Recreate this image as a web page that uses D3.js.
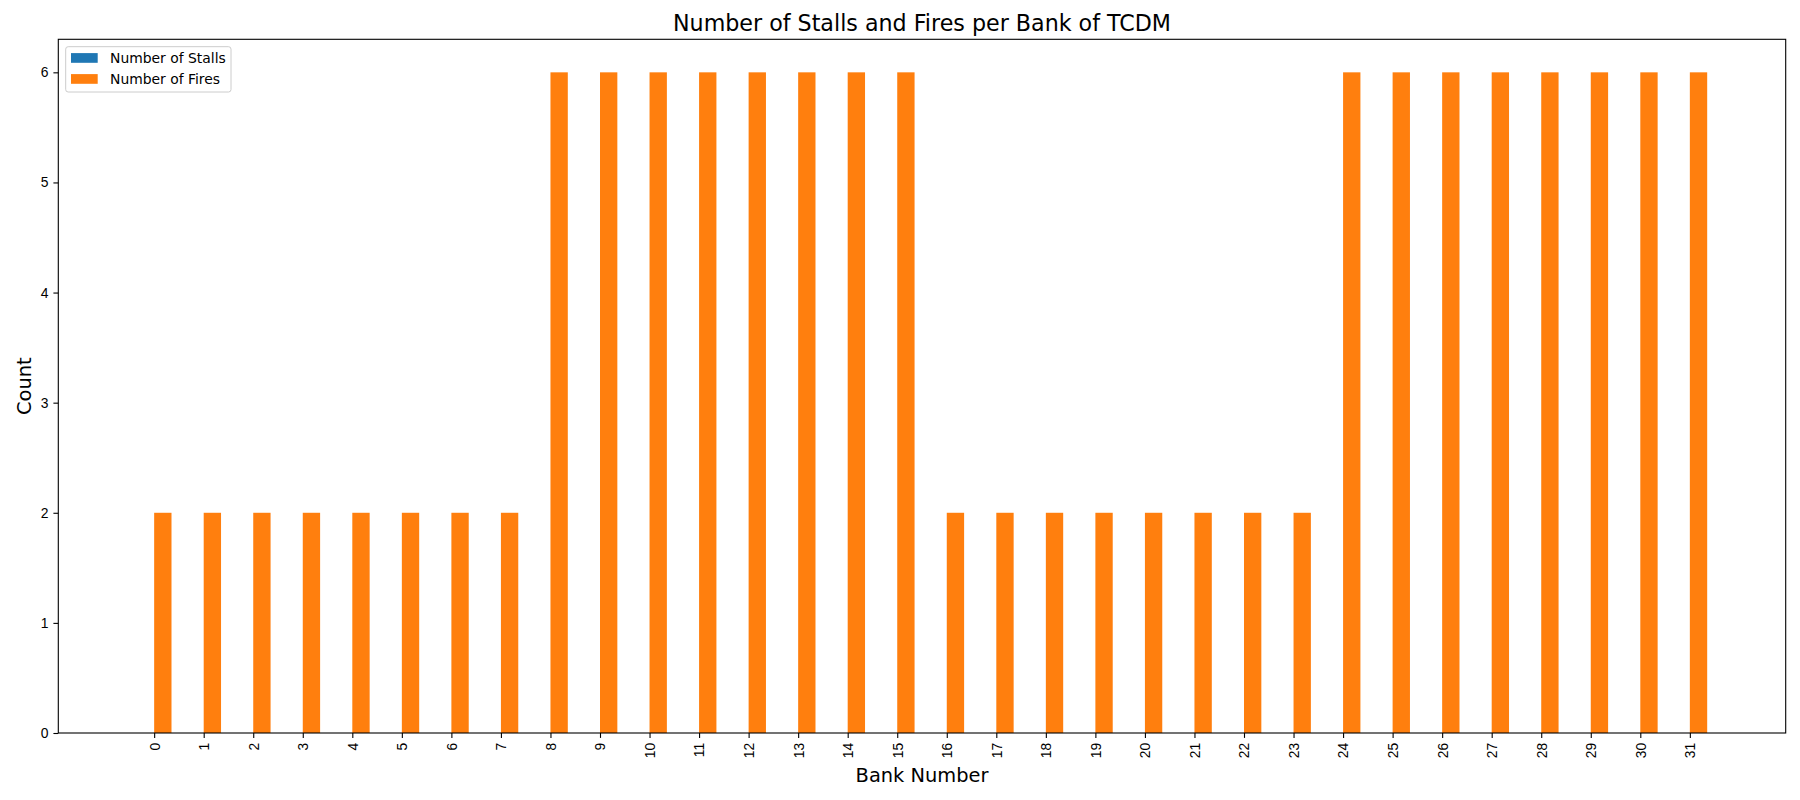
<!DOCTYPE html>
<html>
<head>
<meta charset="utf-8">
<script src="https://cdn.jsdelivr.net/npm/d3@7"></script>
<style>
  html, body { margin: 0; padding: 0; background: #fff; }
  svg { display: block; font-family: "DejaVu Sans", sans-serif; }
</style>
</head>
<body>
<svg id="chart" width="1800" height="800"></svg>
<script>
const banks = d3.range(32);
const stalls = [0,0,0,0,0,0,0,0, 0,0,0,0,0,0,0,0, 0,0,0,0,0,0,0,0, 0,0,0,0,0,0,0,0];
const fires  = [2,2,2,2,2,2,2,2, 6,6,6,6,6,6,6,6, 2,2,2,2,2,2,2,2, 6,6,6,6,6,6,6,6];
const yTicks = [0,1,2,3,4,5,6];
const seriesNames = ["Number of Stalls", "Number of Fires"];
const colors = ["#1f77b4", "#ff7f0e"];

const svg = d3.select("#chart");
const L = 58.3, R = 1785.7, T = 39.3, B = 733;
const barW = 0.35;

const x = d3.scaleLinear().domain([-1.935, 32.935]).range([L, R]);
const y = d3.scaleLinear().domain([0, 6.3]).range([B, T]);

// bars
const series = [stalls, fires];
series.forEach((vals, si) => {
  svg.append("g").selectAll("rect").data(vals).join("rect")
    .attr("x", (d, i) => x(banks[i] + (si === 0 ? -barW : 0)))
    .attr("width", (d, i) => x(banks[i] + barW) - x(banks[i]))
    .attr("y", d => y(d))
    .attr("height", d => y(0) - y(d))
    .attr("fill", colors[si]);
});

// axes
const xAxis = d3.axisBottom(x).tickValues(banks).tickFormat(d => d).tickSize(4.9).tickPadding(4.9);
const gx = svg.append("g").attr("transform", `translate(0,${B})`).call(xAxis);
gx.select(".domain").remove();
gx.selectAll(".tick line").attr("stroke", "#000").attr("stroke-width", 1.1);
gx.selectAll(".tick text")
  .attr("font-size", "13.9px").attr("fill", "#000")
  .attr("transform", "rotate(-90)")
  .attr("text-anchor", "end")
  .attr("x", -9.8).attr("y", 0).attr("dy", "0.35em");

const yAxis = d3.axisLeft(y).tickValues(yTicks).tickFormat(d3.format("d")).tickSize(4.9).tickPadding(4.9);
const gy = svg.append("g").attr("transform", `translate(${L},0)`).call(yAxis);
gy.select(".domain").remove();
gy.selectAll(".tick line").attr("stroke", "#000").attr("stroke-width", 1.1);
gy.selectAll(".tick text").attr("font-size", "13.9px").attr("fill", "#000");

// frame
svg.append("rect").attr("x", L).attr("y", T).attr("width", R - L).attr("height", B - T)
  .attr("fill", "none").attr("stroke", "#000").attr("stroke-width", 1.1);

// title and labels
svg.append("text").attr("x", (L + R) / 2).attr("y", 31).attr("text-anchor", "middle")
  .attr("font-size", "22.2px").attr("fill", "#000").text("Number of Stalls and Fires per Bank of TCDM");
svg.append("text").attr("x", (L + R) / 2).attr("y", 782).attr("text-anchor", "middle")
  .attr("font-size", "19.4px").attr("fill", "#000").text("Bank Number");
svg.append("text").attr("transform", `translate(31,${(T + B) / 2}) rotate(-90)`).attr("text-anchor", "middle")
  .attr("font-size", "19.4px").attr("fill", "#000").text("Count");

// legend
const lg = svg.append("g");
lg.append("rect").attr("x", 65.7).attr("y", 46.7).attr("width", 165.3).attr("height", 45.3)
  .attr("rx", 2.5).attr("fill", "#fff").attr("fill-opacity", 0.8)
  .attr("stroke", "#ccc").attr("stroke-width", 1);
seriesNames.forEach((name, i) => {
  const cy = 58 + i * 21;
  lg.append("rect").attr("x", 71).attr("y", cy - 4.9).attr("width", 26.7).attr("height", 9.7).attr("fill", colors[i]);
  lg.append("text").attr("x", 110).attr("y", cy).attr("dy", "0.35em")
    .attr("font-size", "13.9px").attr("fill", "#000").text(name);
});
</script>
</body>
</html>
